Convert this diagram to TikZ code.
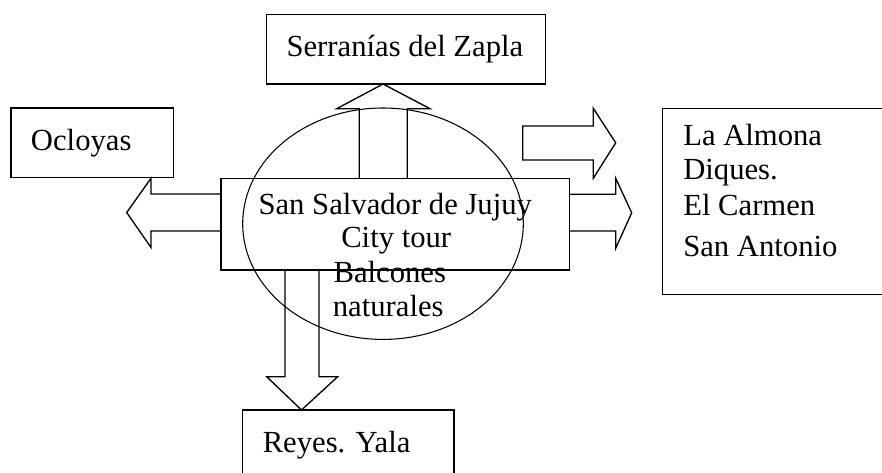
\documentclass[tikz,border=0pt]{standalone}
\usepackage{fontspec}
\setmainfont{Liberation Serif}
\usetikzlibrary{fit,shapes.geometric}
\begin{document}
\begin{tikzpicture}[x=0.75pt,y=-0.75pt,
  frame/.style={draw, line width=1pt, inner sep=0pt},
  txt/.style={inner sep=0pt, anchor=base west, font=\fontsize{23}{27}\selectfont},
  blockarrow/.style={draw, line width=1pt, line join=miter}]
\useasboundingbox (0,0) rectangle (882,472);
\fill[white] (0,0) rectangle (882,472);
% boxes
\node[frame, fit={(266.7,14.3) (545.7,84)}] (serr) {};
\node[frame, fit={(11,108) (173.3,177.3)}] (ocl) {};
\node[frame, fit={(221,178.3) (569.3,270)}] (center) {};
\node[frame, fit={(662.7,108.3) (910,294.3)}] (east) {};
\node[frame, fit={(242.7,410) (454,500)}] (reyes) {};
% block arrows
\draw[blockarrow] (359.3,178.3) -- (359.3,108.7) -- (336.7,108.7) -- (383,84)
  -- (430,108.7) -- (407.3,108.7) -- (407.3,178.3);
\draw[blockarrow] (221,194) -- (151,194) -- (151,178.3) -- (126.7,212.5)
  -- (151,247.5) -- (151,231) -- (221,231);
\draw[blockarrow] (522.7,126) -- (593.3,126) -- (593.3,108.3) -- (615.7,142.8)
  -- (593.3,178.3) -- (593.3,160) -- (522.7,160) -- cycle;
\draw[blockarrow] (569.3,194.3) -- (615.7,194.3) -- (615.7,178.3) -- (631.7,212.8)
  -- (615.7,248.3) -- (615.7,231) -- (569.3,231);
\draw[blockarrow] (285,270) -- (285,376.7) -- (266.7,376.7) -- (301.5,410)
  -- (337.7,376.7) -- (319,376.7) -- (319,270);
% oval
\node[draw, ellipse, line width=0.8pt, inner sep=0pt, minimum width=210.45pt,
  minimum height=173.55pt] (oval) at (383,223.7) {};
% texts
\node[txt] (serrt) at (286.3,56.7) {Serranías del Zapla};
\node[txt] (oclt) at (30.7,150.7) {Ocloyas};
\node[txt] (c1) at (258.3,214) {San Salvador de Jujuy};
\node[txt] (c2) at (341,247.7) {City tour};
\node[txt] (c3) at (333.3,282.7) {Balcones};
\node[txt] (c4) at (332.6,316.7) {naturales};
\node[txt] (e1) at (683,145) {La Almona};
\node[txt] (e2) at (683,179.3) {Diques.};
\node[txt] (e3) at (683,215) {El Carmen};
\node[txt] (e4) at (683,256.7) {San Antonio};
\node[txt] (reyest) at (262.5,452.7) {Reyes. Yala};
\end{tikzpicture}
\end{document}
